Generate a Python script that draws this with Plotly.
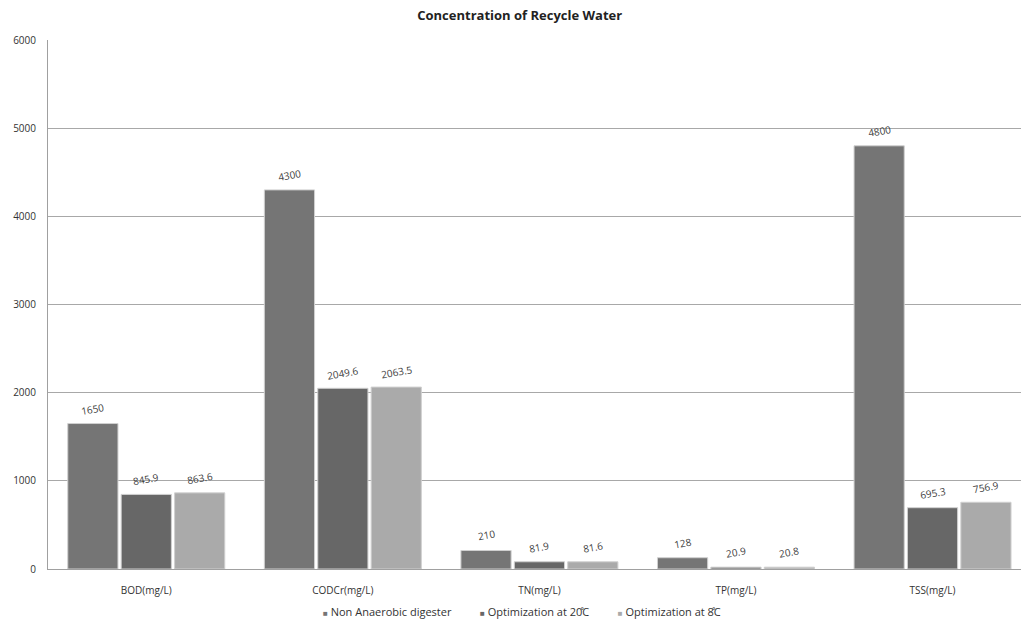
import plotly.graph_objects as go

categories = ["BOD(mg/L)", "CODCr(mg/L)", "TN(mg/L)", "TP(mg/L)", "TSS(mg/L)"]
non_anaerobic = [1650, 4300, 210, 128, 4800]
opt_20c = [845.9, 2049.6, 81.9, 20.9, 695.3]
opt_8c = [863.6, 2063.5, 81.6, 20.8, 756.9]

series_names = ["Non Anaerobic digester", "Optimization at 20\u030aC", "Optimization at 8\u030aC"]
series_values = [non_anaerobic, opt_20c, opt_8c]
series_colors = ["#757575", "#676767", "#aaaaaa"]

font_family = "Open Sans, Liberation Sans, sans-serif"
BARGAP = 0.185
BARGROUPGAP = 0.06

fig = go.Figure()
for name, vals, color in zip(series_names, series_values, series_colors):
    fig.add_trace(go.Bar(
        x=categories,
        y=vals,
        name=name,
        marker=dict(color=color, line=dict(color="#d0d0d0", width=1)),
        showlegend=False,
        cliponaxis=False,
    ))

# Value labels above each bar, placed at the centre of its slot within the group
n_series = len(series_values)
slot = (1 - BARGAP) / n_series
annotations = []
for k, vals in enumerate(series_values):
    offset = (k - (n_series - 1) / 2) * slot
    for i, v in enumerate(vals):
        annotations.append(dict(
            x=i + offset,
            y=v,
            xref="x",
            yref="y",
            text=f"{v:g}",
            showarrow=False,
            textangle=-10,
            yanchor="middle",
            yshift=15,
            font=dict(size=10, color="#404040", family=font_family),
        ))

# Legend row below the axis: small coloured square followed by the series name
gap = "&nbsp;" * 10
legend_html = gap.join(
    f"<span style='color:{c};font-size:8px'>\u25a0</span> {n}"
    for n, c in zip(series_names, series_colors)
)
annotations.append(dict(
    x=0.487,
    y=-0.081,
    xref="paper",
    yref="paper",
    xanchor="center",
    yanchor="middle",
    text=legend_html,
    showarrow=False,
    font=dict(size=11, color="#333333", family=font_family),
))

fig.update_layout(
    width=1021,
    height=635,
    margin=dict(l=48, r=0, t=40, b=66),
    paper_bgcolor="white",
    plot_bgcolor="white",
    barmode="group",
    bargap=BARGAP,
    bargroupgap=BARGROUPGAP,
    showlegend=False,
    font=dict(family=font_family, size=10, color="#333333"),
    title=dict(
        text="<b>Concentration of Recycle Water</b>",
        x=0.509,
        xanchor="center",
        xref="container",
        y=0.975,
        yanchor="middle",
        font=dict(size=13, color="#222222", family=font_family),
    ),
    annotations=annotations,
    xaxis=dict(
        range=[-0.5, 4.45],
        showgrid=False,
        showline=True,
        linecolor="#a0a0a0",
        linewidth=1,
        ticks="",
        ticklabelstandoff=12,
        tickfont=dict(size=10, color="#333333"),
    ),
    yaxis=dict(
        range=[0, 6000],
        dtick=1000,
        showgrid=True,
        gridcolor="#a8a8a8",
        gridwidth=1,
        showline=True,
        linecolor="#a0a0a0",
        linewidth=1,
        ticks="",
        ticklabelstandoff=9,
        tickfont=dict(size=10, color="#333333"),
        zeroline=False,
    ),
)

fig.write_html("out.html")
